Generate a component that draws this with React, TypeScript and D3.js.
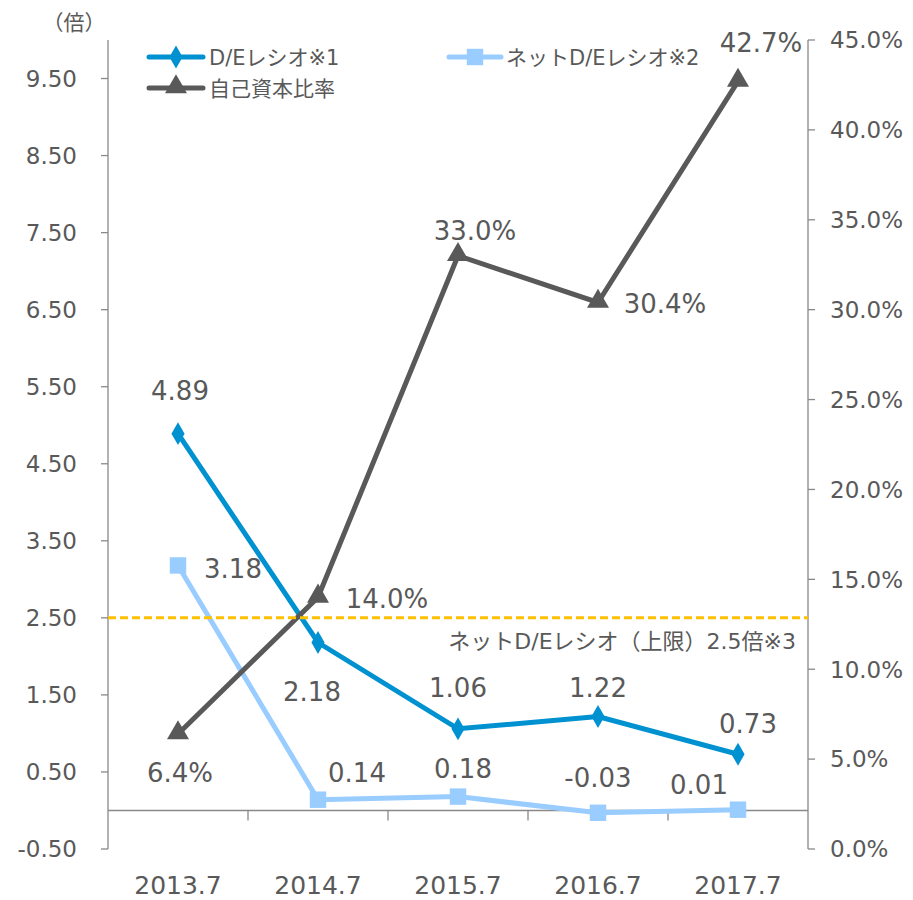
import * as d3 from "d3";

const categories = ["2013.7", "2014.7", "2015.7", "2016.7", "2017.7"];
const deRatio = [4.89, 2.18, 1.06, 1.22, 0.73];
const netDeRatio = [3.18, 0.14, 0.18, -0.03, 0.01];
const equityRatio = [6.4, 14.0, 33.0, 30.4, 42.7];
const leftTicks = [-0.5, 0.5, 1.5, 2.5, 3.5, 4.5, 5.5, 6.5, 7.5, 8.5, 9.5];
const rightTicks = [0, 5, 10, 15, 20, 25, 30, 35, 40, 45];
const netDeLimit = 2.5;

// label offsets (dx, dy of label centre from the point), moved by hand like the original
const deLabelPos = [[2, -43], [-6, 49], [0, -41], [0, -29], [10, -31]];
const netLabelPos = [[55, 3], [39, -27], [5, -28], [0, -35], [-39, -25]];
const eqLabelPos = [[2, 39], [69, 1], [17, -25], [67, 1], [23, -39]];

const W = 913;
const H = 900;
const FONT = "'DejaVu Sans', 'Noto Sans CJK JP', sans-serif";
const TEXT = "#595959";
const AXIS = "#898989";
const BLUE = "#0091D0";
const LIGHT = "#99CCFF";
const GRAY = "#595959";
const DASH = "#FFC000";

const fmt2 = (v: number) => d3.format(".2f")(v).replace("−", "-");

const App = () => {
	const x = d3.scaleBand().domain(categories).range([108, 808]);
	const cx = (c: string) => (x(c) as number) + x.bandwidth() / 2;
	const yL = d3.scaleLinear().domain([-0.5, 10]).range([849, 40]);
	const yR = d3.scaleLinear().domain([0, 45]).range([849, 40]);

	const lineL = d3.line<number>().x((_, i) => cx(categories[i])).y((d) => yL(d));
	const lineR = d3.line<number>().x((_, i) => cx(categories[i])).y((d) => yR(d));

	const diamond = d3.symbol(d3.symbolDiamond, 150)();
	const square = d3.symbol(d3.symbolSquare, 270)();
	const triangle = d3.symbol(d3.symbolTriangle, 210)();

	const x0 = 108;
	const x1 = 808;

	return (
		<svg
			width={W}
			height={H}
			style={{position: "absolute", left: 0, top: 0, background: "#fff"}}
			fontFamily={FONT}
		>
			{/* unit */}
			<text x={74} y={22} dy="0.36em" fontSize={21} fill={TEXT} textAnchor="middle">（倍）</text>

			{/* left axis */}
			<line x1={x0} x2={x0} y1={40} y2={849} stroke={AXIS} strokeWidth={1.3} />
			{leftTicks.map((t) => (
				<g key={t}>
					<line x1={x0 - 7} x2={x0} y1={yL(t)} y2={yL(t)} stroke={AXIS} strokeWidth={1.3} />
					<text x={77} y={yL(t)} dy="0.36em" fontSize={23} fill={TEXT} textAnchor="end">
						{fmt2(t)}
					</text>
				</g>
			))}

			{/* right axis */}
			<line x1={x1} x2={x1} y1={40} y2={849} stroke={AXIS} strokeWidth={1.3} />
			{rightTicks.map((t) => (
				<g key={t}>
					<line x1={x1} x2={x1 + 7} y1={yR(t)} y2={yR(t)} stroke={AXIS} strokeWidth={1.3} />
					<text x={830} y={yR(t)} dy="0.36em" fontSize={23} fill={TEXT}>
						{d3.format(".1f")(t) + "%"}
					</text>
				</g>
			))}

			{/* category axis at zero */}
			<line x1={x0} x2={x1} y1={yL(0)} y2={yL(0)} stroke={AXIS} strokeWidth={1.3} />
			{categories.map((c, i) => (
				<g key={c}>
					{i < categories.length - 1 && (
						<line
							x1={(x(c) as number) + x.bandwidth()}
							x2={(x(c) as number) + x.bandwidth()}
							y1={yL(0)}
							y2={yL(0) + 10}
							stroke={AXIS}
							strokeWidth={1.3}
						/>
					)}
					<text x={cx(c)} y={885} dy="0.36em" fontSize={25} fill={TEXT} textAnchor="middle">
						{c}
					</text>
				</g>
			))}

			{/* D/E ratio */}
			<path d={lineL(deRatio) as string} fill="none" stroke={BLUE} strokeWidth={5} />
			{deRatio.map((v, i) => (
				<path key={i} d={diamond as string} transform={`translate(${cx(categories[i])},${yL(v)})`} fill={BLUE} />
			))}

			{/* net D/E ratio */}
			<path d={lineL(netDeRatio) as string} fill="none" stroke={LIGHT} strokeWidth={5} />
			{netDeRatio.map((v, i) => (
				<path key={i} d={square as string} transform={`translate(${cx(categories[i])},${yL(v)})`} fill={LIGHT} />
			))}

			{/* equity ratio */}
			<path d={lineR(equityRatio) as string} fill="none" stroke={GRAY} strokeWidth={5} />
			{equityRatio.map((v, i) => (
				<path key={i} d={triangle as string} transform={`translate(${cx(categories[i])},${yR(v) - 1})`} fill={GRAY} />
			))}

			{/* upper limit */}
			<line
				x1={x0}
				x2={x1}
				y1={yL(netDeLimit)}
				y2={yL(netDeLimit)}
				stroke={DASH}
				strokeWidth={3}
				strokeDasharray="8 4"
			/>
			<text x={796} y={641} dy="0.36em" fontSize={22} fill={TEXT} textAnchor="end">
				ネットD/Eレシオ（上限）2.5倍※3
			</text>

			{/* data labels */}
			{deRatio.map((v, i) => (
				<text key={"de" + i} x={cx(categories[i]) + deLabelPos[i][0]} y={yL(v) + deLabelPos[i][1]} dy="0.36em" fontSize={26} fill={TEXT} textAnchor="middle">
					{fmt2(v)}
				</text>
			))}
			{netDeRatio.map((v, i) => (
				<text key={"nd" + i} x={cx(categories[i]) + netLabelPos[i][0]} y={yL(v) + netLabelPos[i][1]} dy="0.36em" fontSize={26} fill={TEXT} textAnchor="middle">
					{fmt2(v)}
				</text>
			))}
			{equityRatio.map((v, i) => (
				<text key={"eq" + i} x={cx(categories[i]) + eqLabelPos[i][0]} y={yR(v) + eqLabelPos[i][1]} dy="0.36em" fontSize={26} fill={TEXT} textAnchor="middle">
					{d3.format(".1f")(v) + "%"}
				</text>
			))}

			{/* legend */}
			<g fontSize={21} fill={TEXT}>
				<line x1={149} x2={203} y1={57} y2={57} stroke={BLUE} strokeWidth={5} strokeLinecap="round" />
				<path d={diamond as string} transform="translate(176,57)" fill={BLUE} />
				<text x={209} y={57} dy="0.36em">D/Eレシオ※1</text>

				<line x1={149} x2={203} y1={88} y2={88} stroke={GRAY} strokeWidth={5} strokeLinecap="round" />
				<path d={triangle as string} transform="translate(176,87)" fill={GRAY} />
				<text x={209} y={88} dy="0.36em">自己資本比率</text>

				<line x1={449} x2={501} y1={57} y2={57} stroke={LIGHT} strokeWidth={5} strokeLinecap="round" />
				<path d={square as string} transform="translate(475,57)" fill={LIGHT} />
				<text x={506} y={57} dy="0.36em">ネットD/Eレシオ※2</text>
			</g>
		</svg>
	);
};

export default App;
